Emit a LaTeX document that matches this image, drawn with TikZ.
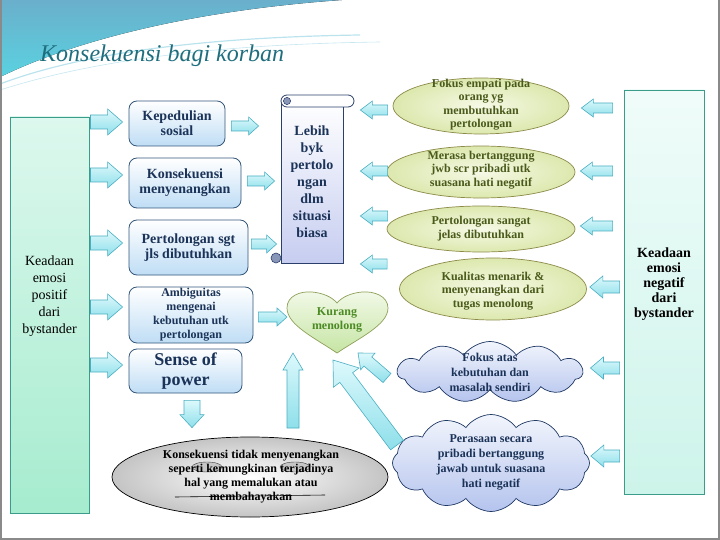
\documentclass[tikz,border=0pt]{standalone}
\usepackage{fontspec}
\setmainfont{Liberation Serif}
\usetikzlibrary{calc,shapes.geometric,shapes.symbols}
\definecolor{arrowline}{HTML}{4BAFC2}
\definecolor{arrowA}{HTML}{DDF9FC}
\definecolor{arrowB}{HTML}{8EDFEA}
\definecolor{boxline}{HTML}{35577A}
\definecolor{boxbot}{HTML}{BFDDF5}
\definecolor{navy}{HTML}{1B3358}
\definecolor{olivetext}{HTML}{4A5A1A}
\definecolor{oliveline}{HTML}{8C8A48}
\definecolor{olivein}{HTML}{F6F9E6}
\definecolor{olivefill}{HTML}{DCE8AE}
\definecolor{heartline}{HTML}{8FA05A}
\definecolor{hearttop}{HTML}{F2F9E8}
\definecolor{heartfill}{HTML}{C6E5A4}
\definecolor{hearttext}{HTML}{4C8A24}
\definecolor{cloudline}{HTML}{1F3864}
\definecolor{cloudtop}{HTML}{F2F5FC}
\definecolor{cloudbot}{HTML}{B5C4EE}
\definecolor{scrollline}{HTML}{2B3F6B}
\definecolor{scrollbot}{HTML}{C6CDF0}
\definecolor{curl}{HTML}{8A96B8}
\definecolor{mintline}{HTML}{3C9C8A}
\definecolor{minttop}{HTML}{DDF8EE}
\definecolor{mintbot}{HTML}{A6ECCF}
\definecolor{rtop}{HTML}{F0FCFA}
\definecolor{rbot}{HTML}{CDF4EA}
\definecolor{titlecol}{HTML}{1F6E7E}
\definecolor{swoopA}{HTML}{6AAFCB}
\definecolor{swoopB}{HTML}{5AD2E0}
\definecolor{swoopline}{HTML}{9FD8E6}
\definecolor{grayout}{HTML}{C4C4C4}
\definecolor{framecol}{HTML}{8A8A8A}
\tikzset{
 barrow/.style args={#1/#2/#3}{to path={let \p1=($(\tikztotarget)-(\tikztostart)$), \n1={veclen(\x1,\y1)}, \n2={atan2(\y1,\x1)} in
   ($(\tikztostart)+(\n2+90:#1)$) -- ($(\tikztostart)+(\n2:\n1-#3)+(\n2+90:#1)$) -- ($(\tikztostart)+(\n2:\n1-#3)+(\n2+90:#2)$) -- (\tikztotarget) -- ($(\tikztostart)+(\n2:\n1-#3)+(\n2-90:#2)$) -- ($(\tikztostart)+(\n2:\n1-#3)+(\n2-90:#1)$) -- ($(\tikztostart)+(\n2-90:#1)$) -- cycle}},
 arr/.style={draw=arrowline, line width=0.6pt, top color=arrowA, bottom color=arrowB},
 box/.style={rectangle, draw=boxline, line width=0.8pt, rounded corners=8pt, top color=white, bottom color=boxbot, inner sep=1pt},
 boxtxt/.style={text=navy, align=center, font=\fontsize{14}{15}\selectfont\bfseries},
 ell/.style={ellipse, draw=oliveline, line width=0.7pt, inner color=olivein, outer color=olivefill, inner sep=0pt},
 elltxt/.style={text=olivetext, align=center, font=\fontsize{12}{13.5}\selectfont\bfseries},
 cloudst/.style={cloud, cloud puffs=11, cloud puff arc=110, cloud ignores aspect, draw=cloudline, line width=0.7pt, top color=cloudtop, bottom color=cloudbot, inner sep=0pt},
 cloudtxt/.style={text=navy, align=center, font=\fontsize{12}{15}\selectfont\bfseries},
 sidebox/.style={rectangle, line width=0.9pt, inner sep=0pt},
 sidetxt/.style={text=black, align=center, font=\fontsize{14}{17}\selectfont},
}
\begin{document}
\begin{tikzpicture}[x=1pt,y=-1pt]
\useasboundingbox (0,0) rectangle (720,540);
\fill[white] (0,0) rectangle (720,540);
% top swoosh
\fill[top color=swoopA, bottom color=swoopB] (0,0) -- (342,0) .. controls (200,10) and (80,38) .. (0,77) -- cycle;
\draw[swoopline, line width=1.2pt, opacity=.7] (0,84) .. controls (90,50) and (220,37) .. (360,35);
\draw[swoopline, line width=0.6pt, opacity=.6] (0,90) .. controls (100,58) and (230,44) .. (380,42);
% frame
\draw[framecol, line width=2pt] (1,0) -- (1,539) -- (719,539) -- (719,0);
% title
\node[anchor=base west, text=titlecol, font=\fontsize{24}{24}\selectfont\itshape, inner sep=0pt] (T) at (40,62) {Konsekuensi bagi korban};

% side boxes
\node[sidebox, draw=mintline, top color=minttop, bottom color=mintbot, minimum width=79pt, minimum height=396pt] (L) at (49.5,315) {};
\node[sidetxt] (Lt) at (49.5,296) {Keadaan\\emosi\\positif\\dari\\bystander};
\node[sidebox, draw=mintline, top color=rtop, bottom color=rbot, minimum width=80pt, minimum height=404pt] (R) at (664,292) {};
\node[sidetxt, font=\fontsize{14}{15}\selectfont\bfseries] (Rt) at (664,284) {Keadaan\\emosi\\negatif\\dari\\bystander};

% middle boxes
\node[box, boxtxt, minimum width=96pt, minimum height=45pt] (B1) at (177,123.5) {Kepedulian\\sosial};
\node[box, boxtxt, minimum width=112pt, minimum height=50pt] (B2) at (185,183) {Konsekuensi\\menyenangkan};
\node[box, boxtxt, minimum width=119pt, minimum height=55pt] (B3) at (188.5,247.5) {Pertolongan sgt\\jls dibutuhkan};
\node[box, boxtxt, font=\fontsize{12}{14}\selectfont\bfseries, minimum width=124pt, minimum height=56pt] (B4) at (191,315) {Ambiguitas\\mengenai\\kebutuhan utk\\pertolongan};
\node[box, boxtxt, font=\fontsize{18}{20}\selectfont\bfseries, minimum width=113pt, minimum height=44pt] (B5) at (185.5,371) {Sense of\\power};

% scroll
\fill[curl, draw=scrollline, line width=0.6pt] (276,258) circle (5);
\node[rectangle, draw=scrollline, line width=0.8pt, top color=white, bottom color=scrollbot, minimum width=62pt, minimum height=162pt, inner sep=0pt] (S) at (312,182) {};
\draw[scrollline, line width=0.8pt, fill=white, rounded corners=6pt] (281,95) rectangle (354,107);
\fill[curl, draw=scrollline, line width=0.5pt] (287,101) circle (3.6);
\node[text=navy, align=center, font=\fontsize{14}{17}\selectfont\bfseries] (St) at (312,182) {Lebih\\byk\\pertolo\\ngan\\dlm\\situasi\\biasa};

% ellipses
\node[ell, minimum width=176pt, minimum height=56pt] (E1) at (481,106) {};
\node[elltxt] (E1t) at (481,104.5) {Fokus empati pada\\orang yg\\membutuhkan\\pertolongan};
\node[ell, minimum width=188pt, minimum height=52pt] (E2) at (481,172) {};
\node[elltxt] (E2t) at (481,170) {Merasa bertanggung\\jwb scr pribadi utk\\suasana hati negatif};
\node[ell, minimum width=188pt, minimum height=46pt] (E3) at (481,229) {};
\node[elltxt] (E3t) at (481,228.5) {Pertolongan sangat\\jelas dibutuhkan};
\node[ell, minimum width=187pt, minimum height=62pt] (E4) at (493,289) {};
\node[elltxt] (E4t) at (493,291) {Kualitas menarik \&\\menyenangkan dari\\tugas menolong};

% heart
\coordinate (Hw) at (287,308);
\coordinate (Hb) at (337,353);
\draw[heartline, line width=0.7pt, top color=hearttop, bottom color=heartfill]
 (Hb) .. controls (315,338) and (287,325) .. (Hw)
 .. controls (287,296) and (300,291) .. (312,292)
 .. controls (323,293) and (332,297) .. (337,303)
 .. controls (342,297) and (351,293) .. (362,292)
 .. controls (374,291) and (388,296) .. (388,308)
 .. controls (388,325) and (359,338) .. (Hb) -- cycle;
\node[text=hearttext, align=center, font=\fontsize{12}{14}\selectfont\bfseries] (H) at (337,320) {Kurang\\menolong};

% clouds
\node[cloudst, minimum width=185pt, minimum height=61pt] (C1) at (490,372) {};
\node[cloudtxt] (C1t) at (490,372) {Fokus atas\\kebutuhan dan\\masalah sendiri};
\node[cloudst, cloud puffs=12, minimum width=197pt, minimum height=97pt] (C2) at (491,463) {};
\node[cloudtxt] (C2t) at (491,462.5) {Perasaan secara\\pribadi bertanggung\\jawab untuk suasana\\hati negatif};

% gray ellipse
\node[ellipse, draw=black, line width=0.7pt, inner color=white, outer color=grayout, minimum width=276pt, minimum height=80pt, inner sep=0pt] (G) at (250,477) {};
\draw[fill=gray!45, draw=black!75, line width=0.4pt] (207,467) ellipse (15 and 5);
\draw[fill=gray!45, draw=black!75, line width=0.4pt] (295,467) ellipse (15 and 5);
\draw[black, line width=0.6pt] (175,497) -- (325,495);
\node[text=black, align=center, font=\fontsize{12}{14}\selectfont\bfseries] (Gt) at (251,477) {Konsekuensi tidak menyenangkan\\seperti kemungkinan terjadinya\\hal yang memalukan atau\\membahayakan};

% arrows from left box
\foreach \yy/\bx in {122/B1,175/B2,243/B3,307/B4,365/B5}
  \draw[arr, barrow=7pt/13pt/15pt] ($(L.east |- 0,\yy)+(1,0)$) to ($(\bx.west |- 0,\yy)+(-6,0)$);
% boxes to scroll / heart
\draw[arr, barrow=5pt/9pt/10pt] ($(B1.east |- 0,126)+(6,0)$) to ($(S.west |- 0,126)+(-22,0)$);
\draw[arr, barrow=5pt/9pt/10pt] ($(B2.east |- 0,181)+(6,0)$) to ($(S.west |- 0,181)+(-6,0)$);
\draw[arr, barrow=5pt/9pt/10pt] ($(B3.east |- 0,244)+(3,0)$) to ($(S.west |- 0,244)+(-4,0)$);
\draw[arr, barrow=5pt/9pt/10pt] ($(B4.east |- 0,317)+(5,0)$) to (Hw |- 0,317);
% ellipses to scroll
\draw[arr, barrow=5pt/9pt/12pt] ($(E1.west |- 0,110)+(-5,0)$) to ($(S.east |- 0,110)+(17,0)$);
\draw[arr, barrow=5pt/9pt/12pt] ($(E2.west |- 0,171)+(1,0)$) to ($(S.east |- 0,171)+(17,0)$);
\draw[arr, barrow=5pt/9pt/12pt] ($(E3.west |- 0,216)+(1,0)$) to ($(S.east |- 0,216)+(17,0)$);
\draw[arr, barrow=5pt/9pt/12pt] ($(E4.west |- 0,264)+(-12,0)$) to ($(S.east |- 0,264)+(17,0)$);
% right box to ellipses and clouds
\draw[arr, barrow=5pt/9pt/12pt] ($(R.west |- 0,108)+(-11,0)$) to ($(E1.east |- 0,108)+(12,0)$);
\draw[arr, barrow=5pt/9pt/12pt] ($(R.west |- 0,171)+(-11,0)$) to ($(E2.east |- 0,171)+(5,0)$);
\draw[arr, barrow=5pt/9pt/12pt] ($(R.west |- 0,226)+(-11,0)$) to ($(E3.east |- 0,226)+(5,0)$);
\draw[arr, barrow=6pt/11pt/13pt] ($(R.west |- 0,287)+(-4,0)$) to ($(E4.east |- 0,287)+(3,0)$);
\draw[arr, barrow=6pt/11pt/13pt] ($(R.west |- 0,368)+(-4,0)$) to ($(C1.east |- 0,368)+(7,0)$);
\draw[arr, barrow=6pt/11pt/13pt] ($(R.west |- 0,456)+(-4,0)$) to ($(C2.east |- 0,456)+(1,0)$);
% vertical and diagonal arrows
\draw[arr, barrow=8pt/12pt/13pt] ($(B5.south)+(6.5,7)$) to ($(B5.south |- G.north)+(6.5,-9)$);
\draw[arr, barrow=6pt/10pt/17pt] ($(G.center)+(43,-49)$) to ($(Hb)+(-44,0)$);
\draw[arr, barrow=8pt/16pt/22pt] ($(C2.center)+(-94,-18)$) to ($(Hb)+(-4,7)$);
\draw[arr, barrow=6pt/11pt/13pt] ($(C1.center)+(-103,6)$) to ($(Hb)+(21,0)$);
\end{tikzpicture}
\end{document}
